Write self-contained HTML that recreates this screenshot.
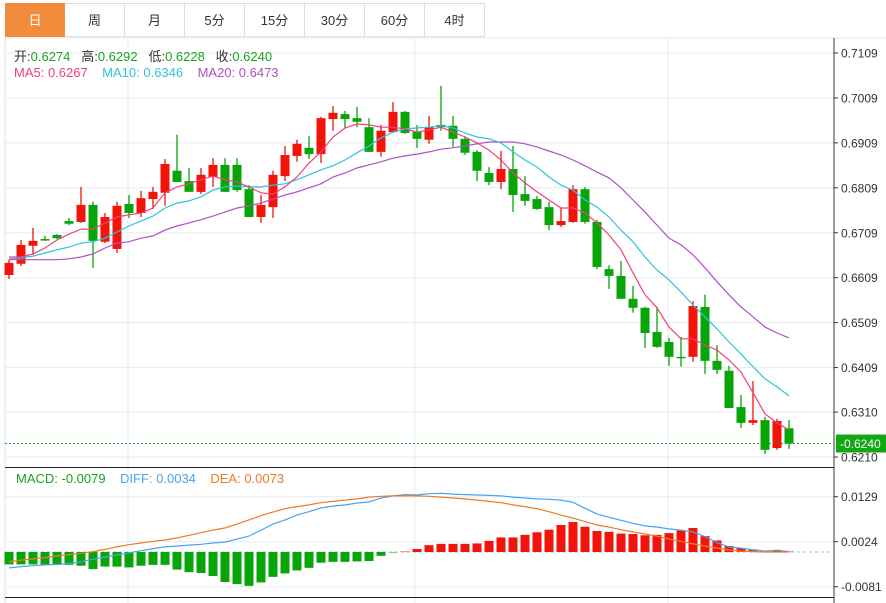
<!DOCTYPE html>
<html><head><meta charset="utf-8">
<style>
html,body{margin:0;padding:0;background:#fff;width:886px;height:603px;overflow:hidden;font-family:"Liberation Sans","Noto Sans CJK SC",sans-serif;}
#tabs{position:absolute;left:5px;top:3px;height:35px;display:flex;}
.tab{width:60px;height:34px;border:1px solid #ddd;border-left:none;box-sizing:border-box;text-align:center;line-height:34px;font-size:13px;color:#333;background:#fff;}
.tab.first{border-left:1px solid #ddd;}
.tab.active{background:#f28c3c;color:#fff;border-color:#f28c3c;}
svg{position:absolute;left:0;top:0;}
.lg{position:absolute;font-size:13px;white-space:nowrap;}
</style></head><body>
<div id="tabs">
<div class="tab first active">日</div>
<div class="tab">周</div>
<div class="tab">月</div>
<div class="tab">5分</div>
<div class="tab">15分</div>
<div class="tab">30分</div>
<div class="tab">60分</div>
<div class="tab">4时</div>
</div>
<svg id="chart" width="886" height="603"></svg>
<div class="lg" style="left:14px;top:46px;color:#333">开:<span style="color:#1aa31a">0.6274</span>&nbsp;&nbsp; 高:<span style="color:#1aa31a">0.6292</span>&nbsp;&nbsp; 低:<span style="color:#1aa31a">0.6228</span>&nbsp;&nbsp; 收:<span style="color:#1aa31a">0.6240</span></div>
<div class="lg" style="left:14px;top:65px"><span style="color:#f0407a">MA5: 0.6267</span>&nbsp;&nbsp;&nbsp; <span style="color:#2ec4dc">MA10: 0.6346</span>&nbsp;&nbsp;&nbsp; <span style="color:#b04fc8">MA20: 0.6473</span></div>
<div class="lg" style="left:16px;top:471px"><span style="color:#1aa31a">MACD: -0.0079</span>&nbsp;&nbsp;&nbsp; <span style="color:#4aa3f0">DIFF: 0.0034</span>&nbsp;&nbsp;&nbsp; <span style="color:#f07a28">DEA: 0.0073</span></div>
<script>
const opens=[.6615,.6640,.6680,.6695,.6704,.6735,.6733,.6771,.6689,.6673,.6773,.6753,.6784,.6798,.6847,.6824,.6800,.6833,.6860,.6860,.6806,.6744,.6766,.6835,.6880,.6898,.6884,.6962,.6973,.6964,.6944,.6889,.6933,.6978,.6933,.6916,.6949,.6947,.6918,.6889,.6842,.6822,.6851,.6795,.6784,.6766,.6726,.6733,.6806,.6733,.6628,.6613,.6562,.6542,.6488,.6466,.6433,.6433,.6544,.6424,.6402,.6321,.6286,.6292,.6230,.6274];
const highs=[.6649,.6693,.6720,.6702,.6706,.6742,.6811,.6778,.6753,.6778,.6793,.6802,.6811,.6873,.6927,.6853,.6853,.6875,.6875,.6875,.6815,.6793,.6847,.6902,.6916,.6924,.6967,.6991,.6980,.6989,.6964,.6949,.7000,.6980,.6949,.6969,.7036,.6969,.6924,.6893,.6855,.6891,.6902,.6835,.6791,.6778,.6764,.6815,.6811,.6738,.6637,.6646,.6591,.6544,.6544,.6475,.6477,.6557,.6571,.6459,.6413,.6348,.6379,.6299,.6295,.6292];
const lows=[.6606,.6635,.6660,.6691,.6695,.6726,.6731,.6631,.6686,.6664,.6742,.6744,.6762,.6769,.6822,.6800,.6795,.6811,.6800,.6800,.6744,.6731,.6742,.6824,.6867,.6873,.6864,.6936,.6942,.6944,.6889,.6878,.6931,.6929,.6898,.6907,.6936,.6900,.6882,.6824,.6815,.6806,.6755,.6769,.6760,.6715,.6722,.6731,.6729,.6628,.6584,.6562,.6531,.6453,.6453,.6413,.6411,.6422,.6395,.6395,.6319,.6275,.6281,.6217,.6226,.6228];
const closes=[.6642,.6682,.6691,.6693,.6697,.6729,.6771,.6691,.6744,.6769,.6753,.6786,.6800,.6862,.6822,.6800,.6838,.6860,.6800,.6804,.6744,.6771,.6838,.6882,.6907,.6884,.6964,.6976,.6962,.6956,.6889,.6936,.6978,.6931,.6918,.6944,.6944,.6918,.6887,.6847,.6822,.6851,.6793,.6780,.6762,.6726,.6735,.6806,.6733,.6633,.6613,.6562,.6542,.6486,.6455,.6433,.6430,.6546,.6424,.6404,.6319,.6286,.6292,.6226,.6290,.6240];
const ma5=[.6655,.6655,.6662,.6675,.6693,.6706,.6717,.6717,.6731,.6744,.6749,.6753,.6764,.6798,.6811,.6818,.6827,.6835,.6827,.6822,.6811,.6798,.6795,.6811,.6833,.6864,.6889,.6922,.6942,.6951,.6949,.6944,.6944,.6940,.6933,.6938,.6944,.6933,.6922,.6909,.6893,.6871,.6842,.6820,.6800,.6782,.6764,.6764,.6753,.6731,.6704,.6671,.6620,.6571,.6542,.6499,.6473,.6473,.6459,.6448,.6426,.6399,.6353,.6306,.6286,.6270];
const ma10=[.6651,.6653,.6657,.6664,.6671,.6677,.6686,.6689,.6697,.6711,.6724,.6735,.6746,.6764,.6775,.6780,.6789,.6804,.6811,.6813,.6811,.6811,.6815,.6818,.6827,.6838,.6849,.6858,.6871,.6887,.6902,.6920,.6933,.6940,.6942,.6944,.6947,.6942,.6931,.6922,.6918,.6909,.6889,.6871,.6855,.6833,.6815,.6804,.6782,.6766,.6744,.6715,.6689,.6655,.6626,.6604,.6577,.6548,.6522,.6495,.6466,.6439,.6411,.6384,.6366,.6346];
const ma20=[.6649,.6649,.6649,.6649,.6649,.6651,.6655,.6662,.6675,.6686,.6689,.6697,.6702,.6715,.6724,.6731,.6738,.6746,.6755,.6764,.6769,.6775,.6784,.6793,.6800,.6809,.6818,.6833,.6842,.6853,.6860,.6867,.6875,.6880,.6884,.6889,.6895,.6898,.6902,.6907,.6911,.6911,.6911,.6907,.6900,.6891,.6882,.6871,.6858,.6844,.6831,.6809,.6782,.6755,.6726,.6697,.6682,.6660,.6631,.6600,.6571,.6544,.6522,.6499,.6486,.6475];
const macdHist=[-.0029,-.0029,-.0029,-.0030,-.0030,-.0030,-.0032,-.0040,-.0034,-.0034,-.0036,-.0032,-.0030,-.0030,-.0041,-.0047,-.0049,-.0056,-.0070,-.0075,-.0079,-.0071,-.0058,-.0050,-.0043,-.0037,-.0025,-.0023,-.0023,-.0022,-.0021,-.0009,-.0001,.0001,.0007,.0016,.0019,.0019,.0019,.0020,.0026,.0034,.0034,.0040,.0046,.0052,.0063,.0070,.0059,.0049,.0047,.0043,.0042,.0039,.0040,.0044,.0050,.0056,.0037,.0027,.0014,.0009,.0006,.0002,.0005,.0001];
const diff=[-.0037,-.0034,-.0032,-.0030,-.0029,-.0027,-.0023,-.0017,-.0012,-.0007,-.0002,.0003,.0008,.0012,.0014,.0016,.0018,.0021,.0023,.0030,.0037,.0051,.0065,.0075,.0086,.0094,.0103,.0107,.0110,.0114,.0117,.0126,.0131,.0134,.0133,.0136,.0137,.0135,.0134,.0133,.0132,.0131,.0128,.0126,.0124,.0123,.0121,.0116,.0102,.0089,.0081,.0074,.0067,.0061,.0058,.0054,.0051,.0047,.0036,.0022,.0012,.0009,.0005,.0002,.0004,.0001];
const dea=[-.0023,-.0019,-.0016,-.0013,-.0009,-.0006,-.0003,.0001,.0006,.0012,.0017,.0021,.0025,.0028,.0033,.0039,.0045,.0051,.0056,.0065,.0075,.0085,.0093,.0101,.0106,.0110,.0115,.0118,.0121,.0124,.0128,.0130,.0131,.0131,.0131,.0130,.0128,.0126,.0124,.0121,.0118,.0115,.0110,.0106,.0101,.0094,.0086,.0079,.0071,.0063,.0058,.0052,.0047,.0042,.0037,.0030,.0025,.0019,.0014,.0009,.0005,.0002,.0001,.0000,.0000,.0000];
const priceTicks=["0.7109","0.7009","0.6909","0.6809","0.6709","0.6609","0.6509","0.6409","0.6310","0.6210"];
const macdTicks=["0.0129","0.0024","-0.0081"];
const lastPrice=0.6240;

const NS="http://www.w3.org/2000/svg";
const svg=document.getElementById('chart');
function el(t,a,p){const e=document.createElementNS(NS,t);for(const k in a)e.setAttribute(k,a[k]);(p||svg).appendChild(e);return e;}
const AX=834;
function xOf(i){return 9+12*i;}
function yP(v){return 53+(0.7109-v)*4494;}
function yM(v){return 552-v*4286;}

// frame
let g;
g=el('line',{x1:5,y1:38,x2:886,y2:38,stroke:'#e6e6e6'});

g=el('line',{x1:5,y1:38,x2:5,y2:603,stroke:'#dde6ee'});

[128,415,668].forEach(x=>{
  const l=el('line',{x1:x,y1:38,x2:x,y2:603,stroke:'#e3ecf3'});
  
  
});
priceTicks.forEach(t=>{
  const y=yP(parseFloat(t));
  const l=el('line',{x1:5,y1:y,x2:AX,y2:y,stroke:'#e3ecf3'});
  
  
  el('line',{x1:AX,y1:y,x2:AX+4,y2:y,stroke:'#333'});
  const tx=el('text',{x:841,y:y+4.5,'font-size':12,fill:'#333','font-family':'Liberation Sans, sans-serif'});
  tx.textContent=t;
  
  
});
macdTicks.forEach(t=>{
  const y=yM(parseFloat(t));
  const l=el('line',{x1:5,y1:y,x2:AX,y2:y,stroke:'#e3ecf3'});
  
  
  el('line',{x1:AX,y1:y,x2:AX+4,y2:y,stroke:'#333'});
  const tx=el('text',{x:841,y:y+4.5,'font-size':12,fill:'#333','font-family':'Liberation Sans, sans-serif'});
  tx.textContent=t;
  
  
});
g=el('line',{x1:AX,y1:38,x2:AX,y2:603,stroke:'#333'});

g=el('line',{x1:5,y1:467.5,x2:AX,y2:467.5,stroke:'#222'});

g=el('line',{x1:5,y1:597.5,x2:AX,y2:597.5,stroke:'#222'});


// candles
const RED='#f2140a',GREEN='#07a507';
closes.forEach((c,i)=>{
  const o=opens[i],x=xOf(i),up=c>=o,col=up?RED:GREEN;
  const grp=el('g',{});
  
  
  el('line',{x1:x,y1:yP(highs[i]),x2:x,y2:yP(lows[i]),stroke:col,'stroke-width':1.3},grp);
  const top=yP(Math.max(o,c)),bot=yP(Math.min(o,c));
  el('rect',{x:x-4.5,y:top,width:9,height:Math.max(1.5,bot-top),fill:col},grp);
});
function poly(arr,fy,col,name,w){
  const p=el('polyline',{points:arr.map((v,i)=>xOf(i)+','+fy(v).toFixed(1)).join(' '),fill:'none',stroke:col,'stroke-width':w||1.2});
  
  
}
poly(ma20,yP,'#b04fc8','ma20-line');
poly(ma10,yP,'#2ec4dc','ma10-line');
poly(ma5,yP,'#f0407a','ma5-line');
// last price line
const ly=yP(lastPrice);
g=el('line',{x1:5,y1:ly,x2:AX,y2:ly,stroke:'#1aa31a','stroke-dasharray':'2,2'});

g=el('rect',{x:836,y:ly-9,width:50,height:18,fill:'#13a813'});

g=el('text',{x:840,y:ly+4.5,'font-size':12,fill:'#fff','font-family':'Liberation Sans, sans-serif'});
g.textContent='-'+lastPrice.toFixed(4);


// macd
g=el('line',{x1:5,y1:yM(0),x2:AX,y2:yM(0),stroke:'#8cc8e8','stroke-dasharray':'3,3'});

macdHist.forEach((v,i)=>{
  const y0=yM(0),y1=yM(v);
  const r=el('rect',{x:xOf(i)-4.5,y:Math.min(y0,y1),width:9,height:Math.max(0.5,Math.abs(y1-y0)),fill:v>=0?RED:GREEN});
  
  
});
poly(diff,yM,'#4aa3f0','diff-line');
poly(dea,yM,'#f07a28','dea-line');
</script>
</body></html>
